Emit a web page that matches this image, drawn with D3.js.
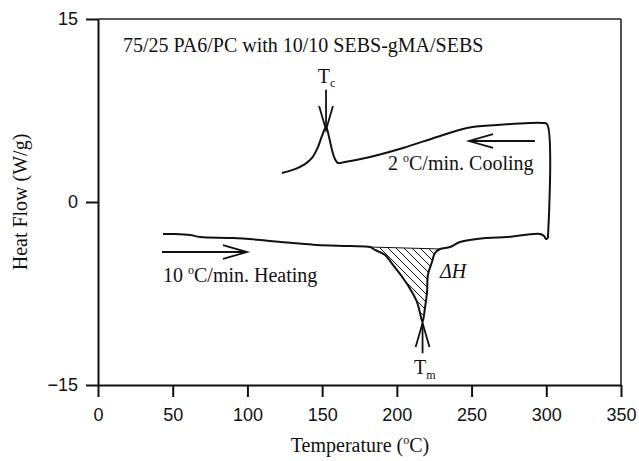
<!DOCTYPE html>
<html><head><meta charset="utf-8">
<script src="https://cdn.jsdelivr.net/npm/d3@7/dist/d3.min.js"></script>
<style>body{margin:0;background:#fff}svg{display:block}</style>
</head><body>
<svg id="c" width="639" height="461"></svg>
<script>
// ---- data ----
const xTicks = [0, 50, 100, 150, 200, 250, 300, 350];
const yTicks = [-15, 0, 15];
// heating scan, 10 °C/min (Temperature °C, Heat flow W/g)
const heatT = [43.5, 51.5, 61.6, 68.3, 90.3, 108.4, 130.5, 146.6, 168.6, 182.0, 185.4, 192.1, 197.4, 204.1, 210.1, 213.5, 215.5, 217.2, 218.8, 220.2, 220.8, 223.5, 225.5, 228.9, 235.6, 242.3, 260.3, 273.7, 295.8, 298.5, 299.8, 301.1];
const heatH = [-2.62, -2.62, -2.70, -2.87, -2.95, -3.11, -3.36, -3.52, -3.61, -3.69, -3.93, -4.34, -5.16, -6.23, -7.38, -8.20, -9.10, -9.84, -8.69, -7.38, -5.98, -4.92, -4.18, -3.85, -3.69, -3.28, -2.95, -2.87, -2.62, -2.79, -3.03, -2.95];
// cooling scan, 2 °C/min (starts at 300 °C)
const coolT = [301.1, 300.5, 297.1, 289.1, 267.0, 246.9, 226.9, 204.1, 182.0, 165.3, 160.6, 158.6, 156.6, 154.6, 152.6, 149.9, 147.2, 143.2, 138.5, 131.8, 123.1];
const coolH = [-2.95, 6.39, 6.48, 6.48, 6.31, 6.07, 5.33, 4.43, 3.69, 3.28, 3.20, 3.52, 4.26, 5.33, 6.15, 5.41, 4.51, 3.61, 3.11, 2.70, 2.38];
// melting enthalpy integration limits (°C)
const dHRange = [182.0, 228.9];
const Tc = 152.6, TcH = 6.15;
const Tm = 217.2, TmH = -9.84;

// ---- layout ----
const svg = d3.select("#c");
const m = {l: 98, r: 621, t: 19, b: 385};
const x = d3.scaleLinear().domain([0, 350]).range([m.l, m.r]);
const y = d3.scaleLinear().domain([-15, 15]).range([m.b, m.t]);
const serif = "'Liberation Serif','Times New Roman',serif";
const sans = "'Liberation Sans',Arial,sans-serif";

// frame top/right
svg.append("line").attr("x1", m.l).attr("x2", m.r).attr("y1", m.t).attr("y2", m.t).attr("stroke", "#222").attr("stroke-width", 1.6);
svg.append("line").attr("x1", m.r).attr("x2", m.r).attr("y1", m.t).attr("y2", m.b).attr("stroke", "#222").attr("stroke-width", 1.6);

const gx = svg.append("g").attr("transform", `translate(0,${m.b})`)
  .call(d3.axisBottom(x).tickValues(xTicks).tickSize(12).tickSizeOuter(0).tickPadding(11));
const gy = svg.append("g").attr("transform", `translate(${m.l},0)`)
  .call(d3.axisLeft(y).tickValues(yTicks).tickSize(12).tickSizeOuter(0).tickPadding(8));
[gx, gy].forEach(g => {
  g.select(".domain").attr("stroke", "#111").attr("stroke-width", 2);
  g.selectAll(".tick line").attr("stroke", "#111").attr("stroke-width", 2);
  g.selectAll(".tick text").attr("font-family", sans).attr("font-size", 18).attr("fill", "#111");
});

// axis titles
const xt = svg.append("text").attr("x", 360).attr("y", 452).attr("text-anchor", "middle")
  .attr("font-family", serif).attr("font-size", 20).attr("fill", "#111");
xt.append("tspan").text("Temperature (");
xt.append("tspan").text("o").attr("font-size", 12).attr("dy", -8);
xt.append("tspan").text("C)").attr("dy", 8);
svg.append("text").attr("transform", `translate(27,202) rotate(-90)`).attr("text-anchor", "middle")
  .attr("font-family", serif).attr("font-size", 20).attr("fill", "#111").text("Heat Flow (W/g)");

// curves
const line = d3.line().x(d => x(d[0])).y(d => y(d[1])).curve(d3.curveCatmullRom.alpha(0.5));
const heat = heatT.map((t, i) => [t, heatH[i]]);
const cool = coolT.map((t, i) => [t, coolH[i]]);

// hatched ΔH area
const dH = heat.filter(d => d[0] >= dHRange[0] && d[0] <= dHRange[1]);
const clip = svg.append("clipPath").attr("id", "hclip");
clip.append("path").attr("d", line(dH) + "Z");
const hg = svg.append("g").attr("clip-path", "url(#hclip)");
const hx0 = x(dHRange[0]) - 120, hy0 = y(-3.6);
for (let k = 0; k < 40; k++) {
  hg.append("line").attr("x1", hx0 + k * 8).attr("y1", hy0).attr("x2", hx0 + k * 8 + 100).attr("y2", hy0 + 100)
    .attr("stroke", "#111").attr("stroke-width", 1);
}
svg.append("line").attr("x1", x(dH[0][0])).attr("y1", y(dH[0][1])).attr("x2", x(dH[dH.length-1][0])).attr("y2", y(dH[dH.length-1][1]))
  .attr("stroke", "#111").attr("stroke-width", 1);

svg.append("path").attr("d", line(heat)).attr("fill", "none").attr("stroke", "#111").attr("stroke-width", 2);
svg.append("path").attr("d", line(cool)).attr("fill", "none").attr("stroke", "#111").attr("stroke-width", 2);

// arrows
function arrow(x1, y1, x2, y2) {
  const g = svg.append("g").attr("stroke", "#111").attr("stroke-width", 1.8).attr("fill", "none");
  g.append("line").attr("x1", x1).attr("y1", y1).attr("x2", x2).attr("y2", y2);
  const a = Math.atan2(y2 - y1, x2 - x1), L = 25, w = 0.28;
  g.append("path").attr("d", `M${x2 - L*Math.cos(a - w)},${y2 - L*Math.sin(a - w)}L${x2},${y2}L${x2 - L*Math.cos(a + w)},${y2 - L*Math.sin(a + w)}`);
}
arrow(x(292.4), y(5.0), x(248.3), y(5.0));
arrow(x(42.8), y(-4.1), x(99.7), y(-4.1));
arrow(x(Tc), y(9.2), x(Tc), y(TcH) + 3);
arrow(x(Tm), y(-12.4), x(Tm), y(TmH) + 1);

// labels
function txt(tx, ty, parts, opts = {}) {
  const t = svg.append("text").attr("x", x(tx)).attr("y", y(ty)).attr("font-family", serif)
    .attr("font-size", 20).attr("fill", "#111").attr("font-style", opts.italic ? "italic" : null);
  parts.forEach(p => {
    const s = t.append("tspan").text(p[0]);
    if (p[1]) s.attr("font-size", p[1]);
    if (p[2]) s.attr("dy", p[2]);
  });
  return t;
}
txt(16.7, 12.3, [["75/25 PA6/PC with 10/10 SEBS-gMA/SEBS"]]);
txt(194.1, 2.62, [["2 "], ["o", 12, -8], ["C/min. Cooling", null, 8]]);
txt(43.5, -6.56, [["10 "], ["o", 12, -8], ["C/min. Heating", null, 8]]);
txt(228.9, -6.23, [["ΔH"]], {italic: true});
txt(147.0, 9.75, [["T"], ["c", 12, 4]]);
txt(211.5, -14.1, [["T"], ["m", 12, 5]]);
</script>
</body></html>
